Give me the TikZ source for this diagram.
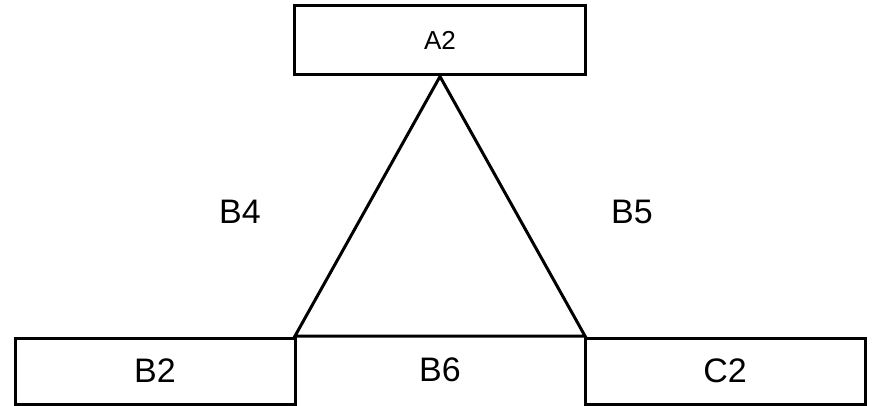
\documentclass[tikz,border=0pt]{standalone}
\usepackage{fontspec}
\setmainfont{Liberation Sans}
\usepackage{tikz}

\tikzset{
	box/.style={draw, line width=3pt, minimum width=280pt, minimum height=66pt, inner sep=0pt, font=\fontsize{34}{38}\selectfont},
	topbox/.style={box, minimum width=291pt, minimum height=69pt, font=\fontsize{26}{30}\selectfont},
	lbl/.style={inner sep=0pt, font=\fontsize{34}{38}\selectfont}
}

\begin{document}
\begin{tikzpicture}[x=1pt,y=-1pt]
		\useasboundingbox (0,0) rectangle (876,406);
		\node[topbox] (a2) at (440,40.5) {A2};
		\node[box] (b2) at (155,371) {B2};
		\node[box] (c2) at (725,371) {C2};
		\coordinate (bl) at (295,336);
		\coordinate (br) at (585,336);
		\draw[line width=3pt, line join=miter] (a2.south) -- (bl) -- (br) -- cycle;
		\node[lbl] (b4) at (240,212) {B4};
		\node[lbl] (b5) at (632,212) {B5};
		\node[lbl] (b6) at (440,370) {B6};
		\end{tikzpicture}
\end{document}
